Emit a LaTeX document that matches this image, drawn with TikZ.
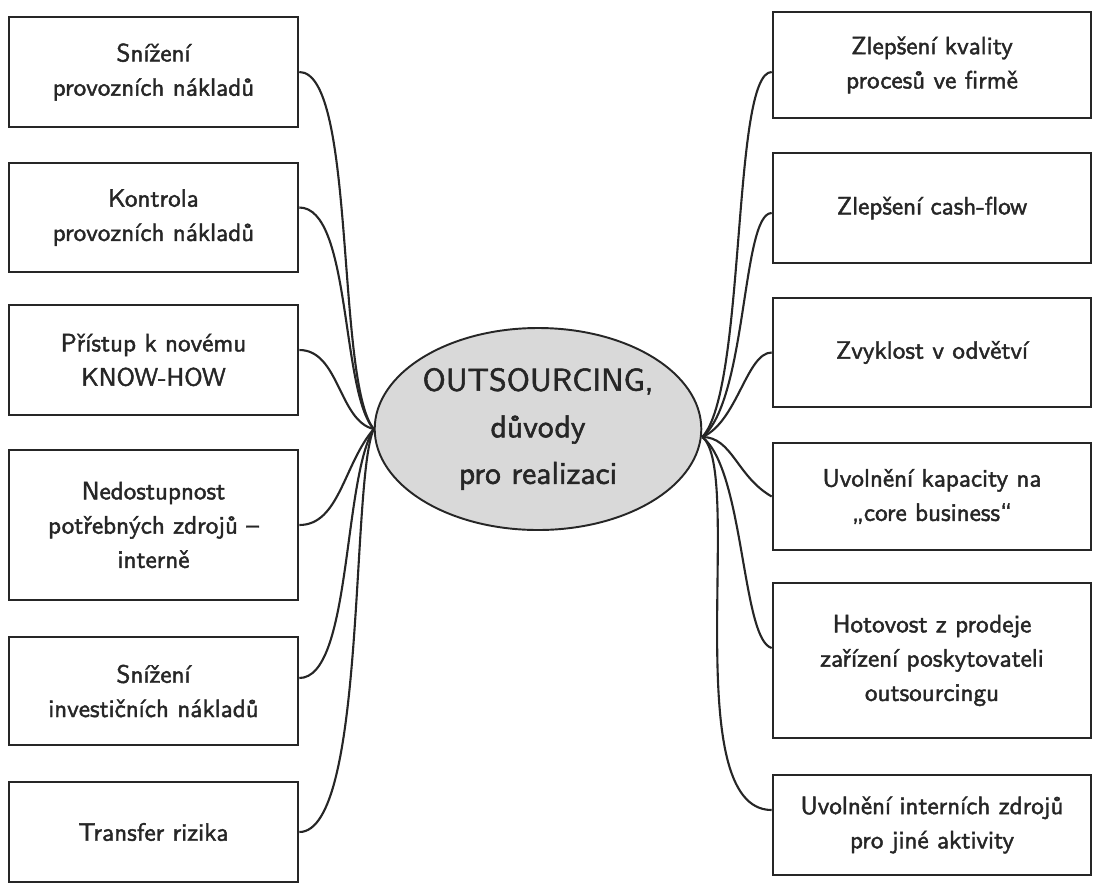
\documentclass[tikz,border=0pt]{standalone}
\usepackage{fontspec}
\newfontfamily\heavysf{lmsans10-regular.otf}[FakeBold=1.7]
\usepackage{tikz}
\usetikzlibrary{shapes.geometric}

\begin{document}
\begin{tikzpicture}[
    rsn/.style={draw=black!85, line width=1.5pt, inner sep=2pt, align=center, text=black!85, font=\heavysf\fontsize{14.3}{19.5}\selectfont},
    lrsn/.style={rsn, minimum width=5.78cm},
    rrsn/.style={rsn, minimum width=6.36cm},
    hub/.style={ellipse, draw=black!85, fill=black!15, line width=1.1pt, minimum width=6.2cm, minimum height=4.04cm, inner sep=0pt, align=center, text=black!85, font=\heavysf\fontsize{18}{26.5}\selectfont},
    lnk/.style={black!85, line width=1.2pt}]
    \useasboundingbox (0,0) rectangle (21.86,-17.72);
    \node[hub] (el) at (10.76,-8.58) {OUTSOURCING,\\důvody\\pro realizaci};
    \node[lrsn, minimum height=2.2cm] (l1) at (3.07,-1.44) {Snížení\\provozních nákladů};
    \node[lrsn, minimum height=2.18cm] (l2) at (3.07,-4.35) {Kontrola\\provozních nákladů};
    \node[lrsn, minimum height=2.2cm] (l3) at (3.07,-7.2) {Přístup k novému\\KNOW-HOW};
    \node[lrsn, minimum height=3.0cm] (l4) at (3.07,-10.5) {Nedostupnost\\potřebných zdrojů –\\interně};
    \node[lrsn, minimum height=2.16cm] (l5) at (3.07,-13.82) {Snížení\\investičních nákladů};
    \node[lrsn, minimum height=2.0cm] (l6) at (3.07,-16.64) {Transfer rizika};
    \node[rrsn, minimum height=2.12cm] (r1) at (18.64,-1.3) {Zlepšení kvality\\procesů ve firmě};
    \node[rrsn, minimum height=2.2cm] (r2) at (18.64,-4.16) {Zlepšení cash-flow};
    \node[rrsn, minimum height=2.18cm] (r3) at (18.64,-7.05) {Zvyklost v odvětví};
    \node[rrsn, minimum height=2.14cm] (r4) at (18.64,-9.93) {Uvolnění kapacity na\\„core business“};
    \node[rrsn, minimum height=3.1cm] (r5) at (18.64,-13.21) {Hotovost z prodeje\\zařízení poskytovateli\\outsourcingu};
    \node[rrsn, minimum height=2.0cm] (r6) at (18.64,-16.5) {Uvolnění interních zdrojů\\pro jiné aktivity};
    \draw[lnk] (l1.east) .. controls +(1.14,0) and +(-0.76,0.94) .. (el.west);
    \draw[lnk] ([yshift=0.2cm]l2.east) .. controls +(1.04,0) and +(-0.66,0.74) .. (el.west);
    \draw[lnk] ([yshift=0.2cm]l3.east) .. controls +(0.8,0) and +(-0.7,0.16) .. (el.west);
    \draw[lnk] (l4.east) .. controls +(0.8,0) and +(-0.6,-0.7) .. (el.west);
    \draw[lnk] ([yshift=0.26cm]l5.east) .. controls +(1.04,0) and +(-0.62,-1.02) .. (el.west);
    \draw[lnk] (l6.east) .. controls +(1.34,0) and +(-0.46,-1.02) .. (el.west);
    \draw[lnk] ([yshift=-0.14cm]r1.west) .. controls +(-0.8,0) and +(0.88,0.94) .. ([yshift=-0.16cm]el.east);
    \draw[lnk] ([yshift=-0.1cm]r2.west) .. controls +(-0.6,0) and +(0.9,0.74) .. ([yshift=-0.16cm]el.east);
    \draw[lnk] (r3.west) .. controls +(-0.5,0) and +(0.7,0.3) .. ([yshift=-0.16cm]el.east);
    \draw[lnk] (r4.west) .. controls +(-0.7,0.4) and +(0.6,0) .. ([yshift=-0.16cm]el.east);
    \draw[lnk] ([yshift=0.25cm]r5.west) .. controls +(-0.6,0.16) and +(0.84,-0.66) .. ([yshift=-0.16cm]el.east);
    \draw[lnk] ([yshift=0.3cm]r6.west) .. controls +(-1.9,0) and +(0.84,-0.66) .. ([yshift=-0.16cm]el.east);
\end{tikzpicture}
\end{document}
